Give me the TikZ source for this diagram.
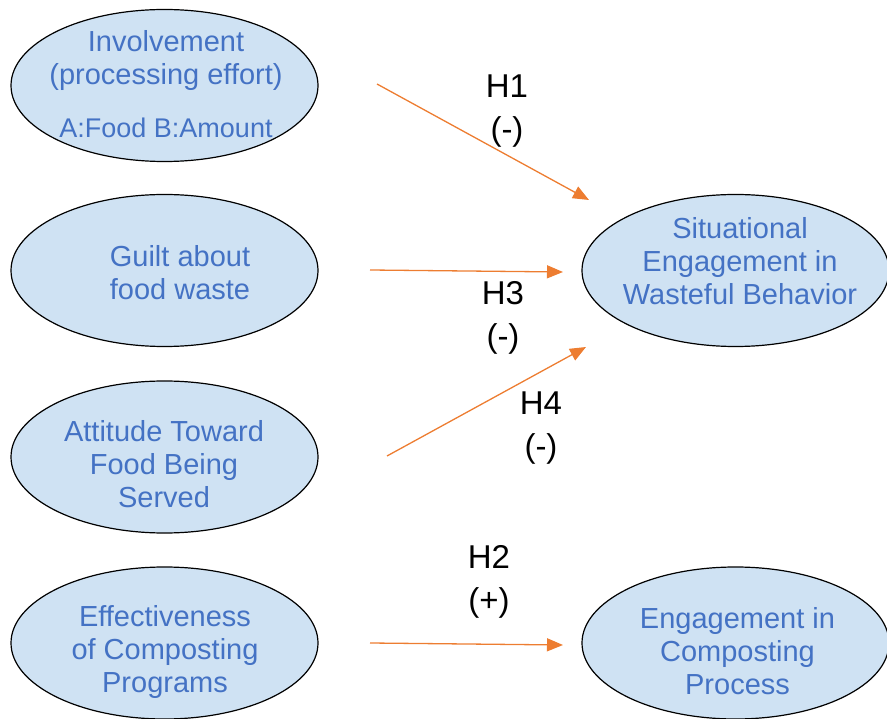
\documentclass[tikz,border=0pt]{standalone}
\usepackage{fontspec}
\setmainfont{Liberation Sans}
\usetikzlibrary{shapes.geometric,arrows.meta}
\definecolor{factfill}{RGB}{207,226,243}
\definecolor{facttext}{RGB}{68,114,196}
\definecolor{linkorange}{RGB}{237,125,49}

\begin{document}
\begin{tikzpicture}[x=1pt,y=-1pt,every node/.style={outer sep=0pt}]
\tikzset{
    factor/.style = {ellipse,draw=black,line width=1.2pt,fill=factfill,minimum width=307pt,
                        minimum height=152pt,inner sep=0pt},
    ftext/.style  = {text=facttext,align=center,inner sep=0pt,font=\fontsize{29}{33}\selectfont},
    hyp/.style    = {text=black,align=center,inner sep=0pt,font=\fontsize{33}{43}\selectfont},
    effect/.style = {draw=linkorange,line width=1.3pt,-{Triangle[length=16pt,width=13pt]}}
}

\useasboundingbox (0,0) rectangle (887,719);

%% left column of factors
\node (inv) [factor] at (164.5,85.5) {};
\node (invt) [ftext] at (166,84) {Involvement\\(processing effort)\\[20pt]{\fontsize{27}{33}\selectfont A:Food B:Amount}};

\node (guilt) [factor] at (164.5,270.5) {};
\node (guiltt) [ftext] at (180,273) {Guilt about\\food waste};

\node (att) [factor] at (164.5,457) {};
\node (attt) [ftext] at (164,464) {Attitude Toward\\Food Being\\Served};

\node (eff) [factor] at (164.5,643) {};
\node (efft) [ftext] at (165,652) {Effectiveness\\of Composting\\Programs};

%% right column, outcomes
\node (sit) [factor] at (735.5,270.5) {};
\node (sitt) [ftext] at (740,261) {Situational\\Engagement in\\Wasteful Behavior};

\node (comp) [factor] at (735.5,643) {};
\node (compt) [ftext] at (737.5,651) {Engagement in\\Composting\\Process};

%% free ends of the paths
\coordinate (invout) at (377,84);
\coordinate (sitin1) at (589,200);
\coordinate (guiltout) at (370,270);
\coordinate (sitin2) at (563,272);
\coordinate (attout) at (387,456);
\coordinate (sitin3) at (586,347);
\coordinate (effout) at (370,643);
\coordinate (compin) at (563,645);

\draw [effect] (invout) -- (sitin1);
\draw [effect] (guiltout) -- (sitin2);
\draw [effect] (attout) -- (sitin3);
\draw [effect] (effout) -- (compin);

%% hypotheses
\node (h1) [hyp] at (507,111) {H1\\(-)};
\node (h3) [hyp] at (503,318) {H3\\(-)};
\node (h4) [hyp] at (541,428) {H4\\(-)};
\node (h2) [hyp] at (489,582) {H2\\(+)};

\end{tikzpicture}
\end{document}
